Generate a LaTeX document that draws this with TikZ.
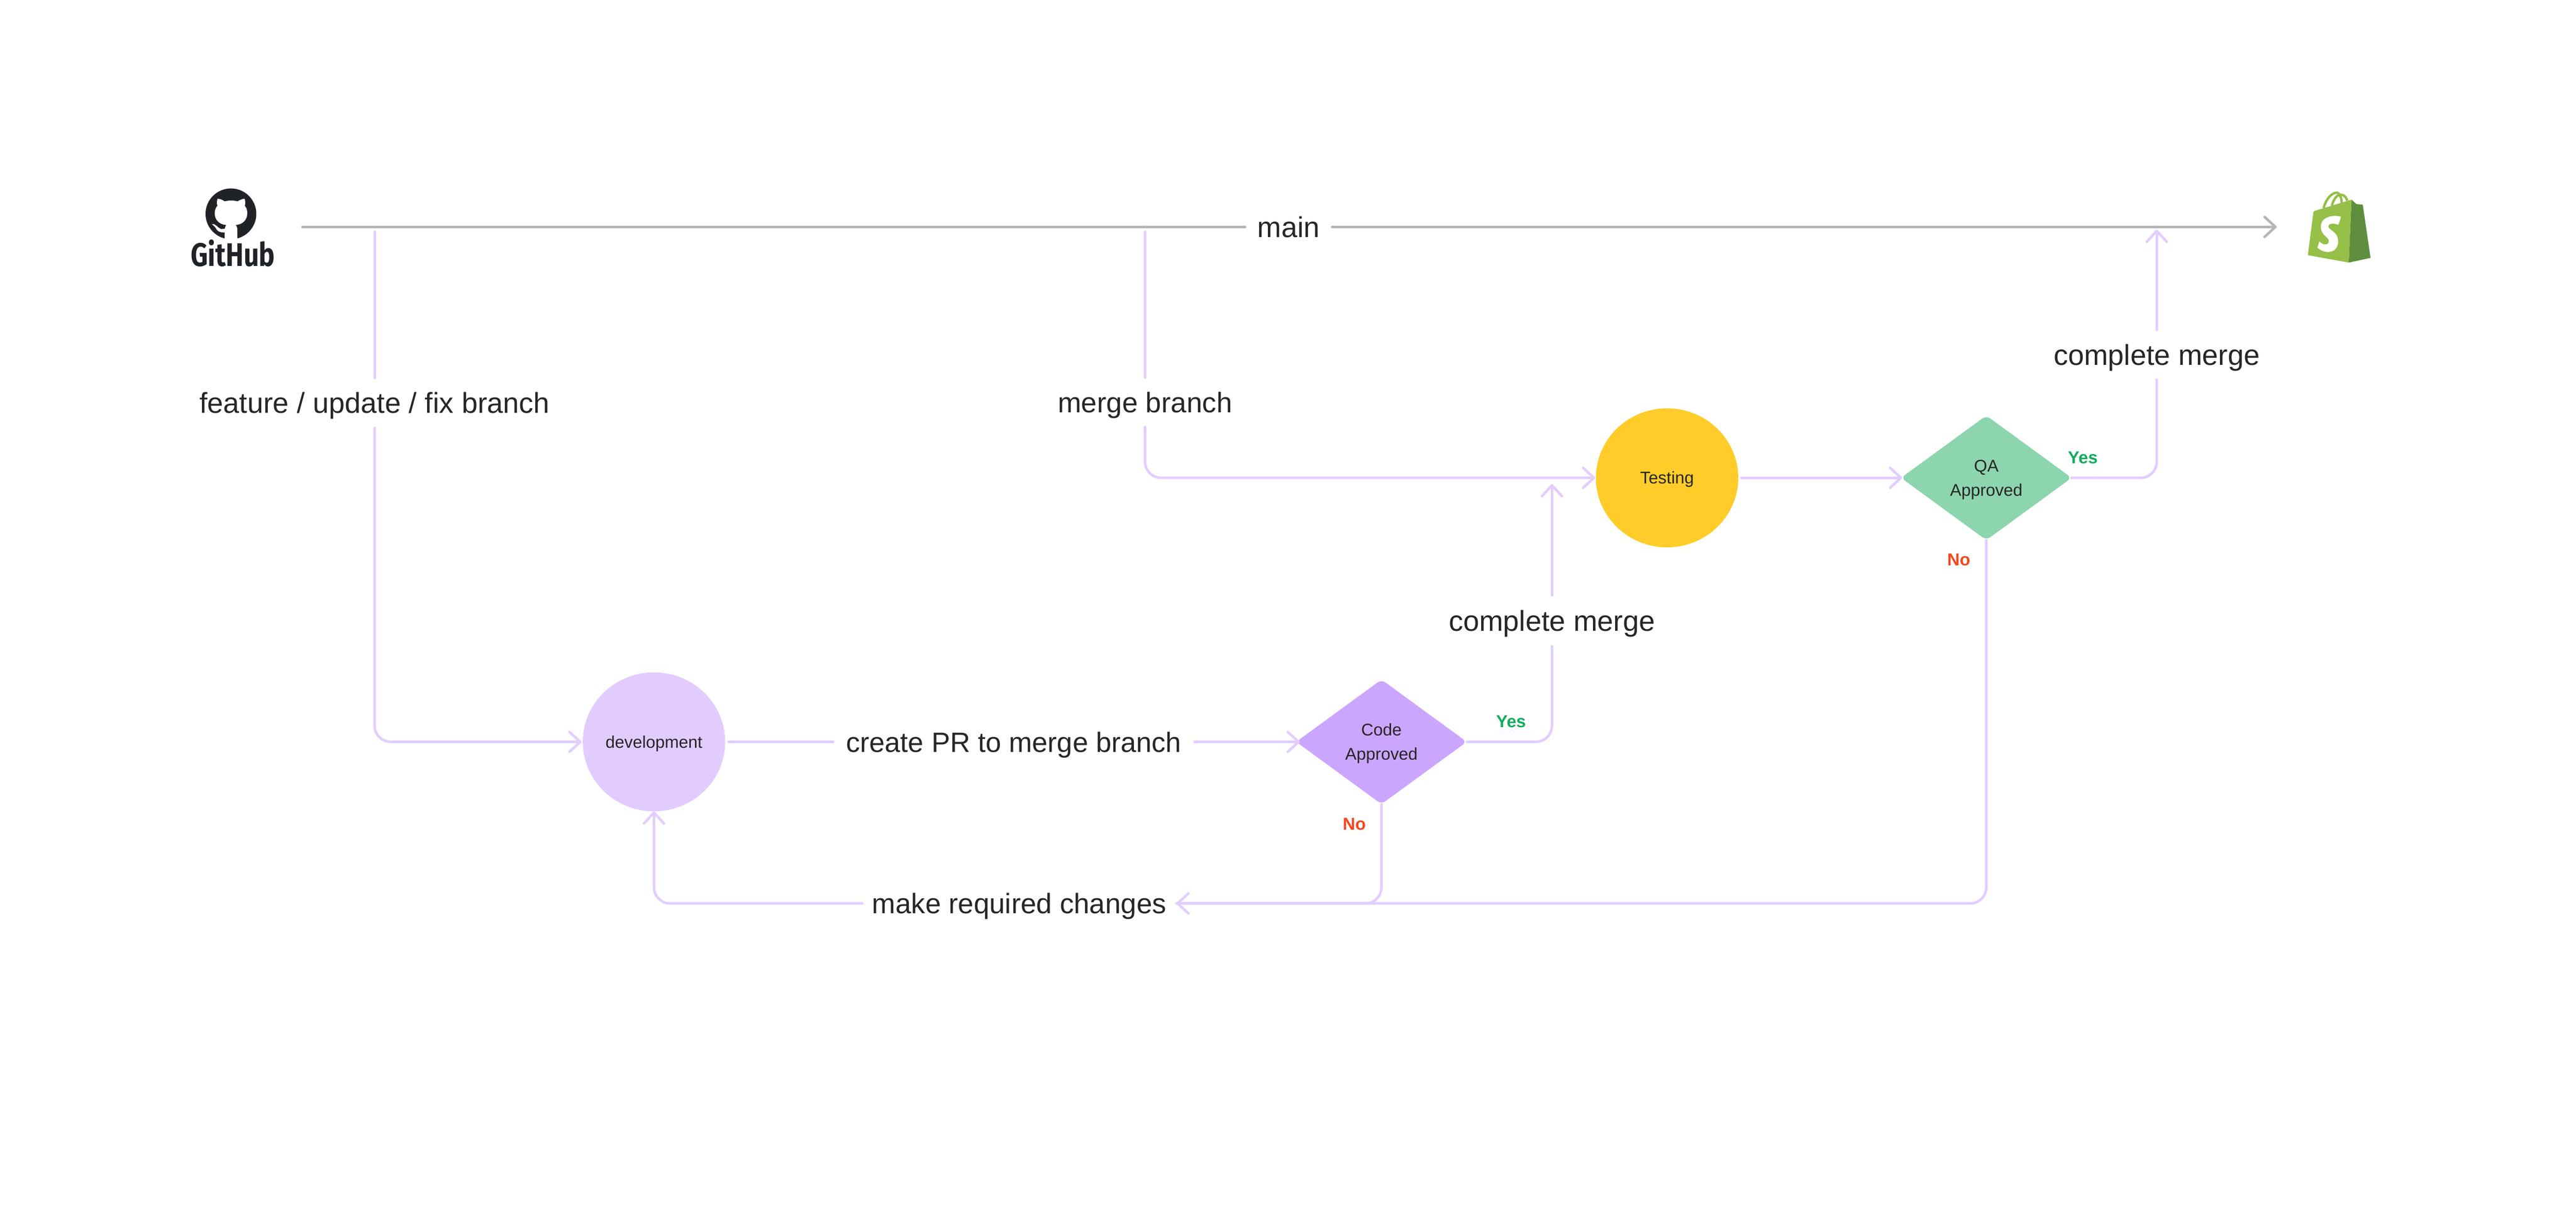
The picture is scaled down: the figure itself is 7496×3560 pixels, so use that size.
\documentclass[tikz,border=0pt]{standalone}
\usepackage{fontspec}
\setmainfont{Liberation Sans}
\newfontfamily\logofont{Fira Sans}
\usetikzlibrary{arrows.meta,shapes.geometric,calc}
\definecolor{flowc}{HTML}{E2CDFF}
\definecolor{mainc}{HTML}{B5B5B5}
\definecolor{devc}{HTML}{E2CCFF}
\definecolor{testc}{HTML}{FFCC29}
\definecolor{codec}{HTML}{CBA6FF}
\definecolor{qac}{HTML}{8CD5AE}
\definecolor{inkc}{HTML}{262626}
\definecolor{yesc}{HTML}{12AD5B}
\definecolor{noc}{HTML}{F4481E}
\definecolor{ghc}{HTML}{1F2328}
\definecolor{baglight}{HTML}{95BF47}
\definecolor{bagdark}{HTML}{5E8E3E}
\tikzset{
  flow/.style={draw=flowc,line width=2.1pt,line cap=round,rounded corners=0.47cm},
  flowarrow/.style={flow,-{Straight Barb[round,length=9pt,width=16.5pt,line width=2.1pt]}},
  mainline/.style={draw=mainc,line width=2.1pt,line cap=round},
  mainarrow/.style={mainline,-{Straight Barb[round,length=9pt,width=16.5pt,line width=2.1pt]}},
  lbl/.style={font=\fontsize{#1}{28}\selectfont,text=inkc,inner sep=0pt,outer sep=0pt,text height=17pt,text depth=0pt,align=center},
  lbl/.default=23.8,
  circ/.style={ellipse,minimum width=4.14cm,minimum height=4.04cm,inner sep=0pt,outer sep=0pt,font=\fontsize{14}{20.2}\selectfont,text=inkc,text height=10pt,text depth=0pt},
  dec/.style={diamond,minimum width=4.96cm,minimum height=3.62cm,inner sep=0pt,outer sep=0pt,rounded corners=4pt,font=\fontsize{14}{20.2}\selectfont,text=inkc,align=center},
  yesno/.style={font=\fontsize{14.3}{17}\bfseries\selectfont,inner sep=0pt}
}
\begin{document}
\begin{tikzpicture}[x=0.01cm,y=-0.01cm]
\useasboundingbox (0,0) rectangle (7496,3560);
% GitHub logo
\begin{scope}[shift={(450,450)},x=0.003333cm,y=-0.003333cm]
\fill[ghc] (667,517) circle[radius=222];
\fill[white] (612,745) -- (612,660) .. controls (612,640) and (618,625) .. (626,615) .. controls (570,610) and (525,575) .. (525,510) .. controls (525,485) and (535,460) .. (550,445) .. controls (540,430) and (545,400) .. (550,385) .. controls (570,385) and (595,395) .. (612,408) .. controls (650,398) and (690,398) .. (725,408) .. controls (745,395) and (770,385) .. (787,385) .. controls (793,405) and (795,430) .. (788,447) .. controls (803,462) and (810,485) .. (810,510) .. controls (810,575) and (765,610) .. (710,615) .. controls (720,625) and (723,640) .. (723,660) -- (723,745) -- cycle;
\fill[white] (500,607) .. controls (535,600) and (550,640) .. (580,650) -- (612,648) -- (612,680) .. controls (570,680) and (550,670) .. (540,650) .. controls (530,630) and (515,620) .. (500,607) -- cycle;
\end{scope}
\node[font=\logofont\fontsize{27}{30}\bfseries\selectfont,text=ghc,inner sep=0pt] (github) at (678,736) {\scalebox{0.82}[1]{GitHub}};
% Shopify logo
\begin{scope}[shift={(6500,450)},x=0.003333cm,y=-0.003333cm]
\draw[baglight,line width=2pt] (785,468) .. controls (810,380) and (860,330) .. (905,332) -- (925,345);
\draw[baglight,line width=2pt] (858,445) .. controls (875,380) and (910,345) .. (940,350) .. controls (970,350) and (985,380) .. (993,402);
\draw[baglight,line width=2pt] (925,350) .. controls (940,375) and (945,400) .. (943,425);
\fill[bagdark] (1030,393) -- (1073,432) -- (1128,437) -- (1196,902) -- (1005,943) -- cycle;
\fill[baglight] (648,878) -- (697,500) -- (705,492) -- (1030,393) -- (1005,943) -- cycle;
\fill[white] (938,543) .. controls (900,530) and (830,530) .. (790,565) .. controls (750,600) and (755,660) .. (785,695) .. controls (810,725) and (835,735) .. (832,760) .. controls (830,785) and (790,800) .. (748,758) -- (732,812) .. controls (770,850) and (830,860) .. (870,840) .. controls (915,815) and (925,750) .. (900,705) .. controls (880,670) and (830,650) .. (828,630) .. controls (828,600) and (870,595) .. (915,613) -- cycle;
\end{scope}
% Shapes
\node[circ,fill=devc] (dev) at (1903,2158) {development};
\node[circ,fill=testc] (test) at (4851,1390) {Testing};
\node[dec,fill=codec] (code) at (4020,2158) {\rule{0pt}{13pt}Code\\Approved};
\node[dec,fill=qac] (qa) at (5780,1390) {\rule{0pt}{13pt}QA\\Approved};
% Labels
\node[lbl,minimum width=2.53cm] (lmain) at (3750,660) {main};
\node[lbl,minimum height=1.45cm] (lfeat) at (1090,1172) {feature / update / fix branch};
\node[lbl=23.4,minimum height=1.44cm] (lmerge) at (3332,1170) {merge branch};
\node[lbl=23.1,minimum width=10.51cm] (lpr) at (2950,2158) {create PR to merge branch};
\node[lbl,minimum height=1.48cm] (lcm1) at (4516,1806) {complete merge};
\node[lbl,minimum height=1.45cm] (lcm2) at (6276,1032) {complete merge};
\node[lbl=23.3,minimum width=9.13cm] (lreq) at (2966,2628) {make required changes};
\node[yesno,text=yesc] (y1) at (4397,2099) {Yes};
\node[yesno,text=noc] (n1) at (3941,2397) {No};
\node[yesno,text=yesc] (y2) at (6061,1332) {Yes};
\node[yesno,text=noc] (n2) at (5700,1629) {No};
% Free ends
\coordinate (mainstart) at (880,660);
\coordinate (mainend) at (6625,660);
\coordinate (featstart) at (1090,674);
\coordinate (mergestart) at (3332,674);
\coordinate (cm1end) at (4516,1408);
\coordinate (cm2end) at (6276,668);
% Connectors
\draw[mainline] (mainstart) -- (lmain);
\draw[mainarrow] (lmain) -- (mainend);
\draw[flow] (featstart) -- (lfeat);
\draw[flowarrow,shorten >=1pt] (lfeat) -- (lfeat |- dev.west) -- (dev.west);
\draw[flow] (mergestart) -- (lmerge);
\draw[flowarrow,shorten >=0.5pt] (lmerge) -- (lmerge |- test.west) -- (test.west);
\draw[flow,shorten <=3pt] (dev) -- (lpr);
\draw[flowarrow,shorten >=-3pt] (lpr) -- (code.west);
\draw[flow] (code.east) -- (code.east -| lcm1) -- (lcm1);
\draw[flowarrow] (lcm1) -- (cm1end);
\draw[flowarrow,shorten <=2.5pt,shorten >=-1pt] (test) -- (qa.west);
\draw[flow] (qa.east) -- (qa.east -| lcm2) -- (lcm2);
\draw[flowarrow] (lcm2) -- (cm2end);
\draw[flow] (code.south) -- (code.south |- lreq) -- (lreq);
\draw[flowarrow] (qa.south) -- (qa.south |- lreq) -- (lreq);
\draw[flowarrow] (lreq) -- (lreq -| dev.south) -- (dev.south);
\end{tikzpicture}
\end{document}
